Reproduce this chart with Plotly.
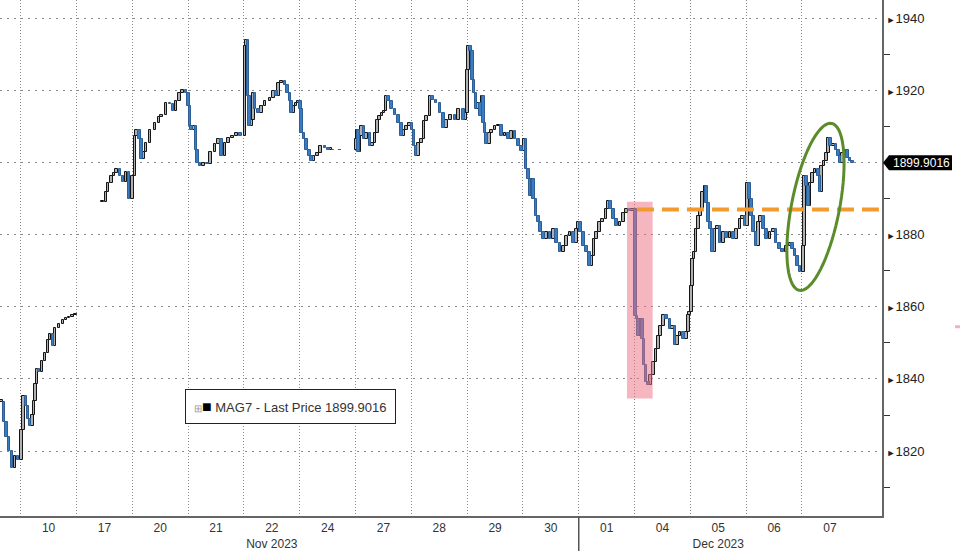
import numpy as np
import plotly.graph_objects as go

# ---------------- data ----------------
day_labels = ["10", "17", "20", "21", "22", "24", "27", "28", "29", "30",
              "01", "04", "05", "06", "07"]          # trading day index 1..15
month_labels = {"22": "Nov 2023", "05": "Dec 2023"}
month_break_day = 11                                 # Dec 01

# time in trading-day units (day index + fraction of the day)
t = [
    # Nov 09 tail / Nov 10
    0.656, 0.700, 0.745, 0.790, 0.844, 0.898, 0.952, 1.014, 1.050, 1.095, 1.131, 1.167,
    1.212, 1.239, 1.266, 1.293, 1.328, 1.382, 1.436, 1.490, 1.526, 1.580, 1.616, 1.688,
    1.759, 1.813, 1.867, 1.921, 1.975,
    # Nov 17
    2.470, 2.529, 2.565, 2.631, 2.672, 2.720, 2.780, 2.833, 2.887, 2.941,
    # Nov 20
    3.007, 3.048, 3.079, 3.125, 3.168, 3.197, 3.246, 3.317, 3.407, 3.478, 3.527, 3.604,
    3.676, 3.729, 3.783, 3.842, 3.903, 3.962,
    # Nov 21
    4.011, 4.034, 4.065, 4.106, 4.142, 4.165, 4.213, 4.272, 4.344, 4.405, 4.482, 4.541,
    4.602, 4.661, 4.720, 4.799, 4.871, 4.943,
    # Nov 22
    5.018, 5.045, 5.072, 5.099, 5.138, 5.167, 5.197, 5.256, 5.317, 5.376, 5.466, 5.525,
    5.586, 5.615, 5.676, 5.735, 5.776, 5.824, 5.855, 5.884, 5.932, 5.973,
    # Nov 24
    6.013, 6.034, 6.075, 6.124, 6.170, 6.213, 6.254, 6.314, 6.375, 6.452, 6.511, 6.559,
    # Nov 27
    7.007, 7.030, 7.056, 7.079, 7.109, 7.151, 7.199, 7.258, 7.306, 7.348, 7.389, 7.425,
    7.473, 7.509, 7.545, 7.586, 7.647, 7.706, 7.765, 7.826, 7.867, 7.916, 7.962,
    # Nov 28
    8.011, 8.047, 8.082, 8.124, 8.185, 8.226, 8.274, 8.333, 8.382, 8.441, 8.513, 8.572,
    8.633, 8.704, 8.781, 8.840, 8.930, 8.978,
    # Nov 29
    9.005, 9.023, 9.063, 9.099, 9.122, 9.158, 9.199, 9.242, 9.265, 9.289, 9.319, 9.349,
    9.396, 9.439, 9.498, 9.557, 9.618, 9.677, 9.737, 9.798, 9.857, 9.916, 9.977,
    # Nov 30
    10.018, 10.054, 10.095, 10.125, 10.156, 10.185, 10.233, 10.274, 10.317, 10.364,
    10.425, 10.484, 10.543, 10.604, 10.663, 10.722, 10.783, 10.842, 10.901, 10.962, 10.986,
    # Dec 01
    11.034, 11.081, 11.142, 11.188, 11.231, 11.272, 11.321, 11.367, 11.428, 11.487,
    11.538, 11.572, 11.618, 11.679, 11.738, 11.798, 11.858, 11.918, 11.966,
    # Dec 04
    12.016, 12.043, 12.070, 12.109, 12.145, 12.168, 12.204, 12.246, 12.289, 12.335,
    12.384, 12.425, 12.468, 12.514, 12.575, 12.634, 12.683, 12.724, 12.765, 12.814,
    12.873, 12.934, 12.962, 12.990,
    # Dec 05
    13.023, 13.041, 13.065, 13.100, 13.142, 13.185, 13.220, 13.262, 13.292, 13.321,
    13.364, 13.400, 13.441, 13.482, 13.530, 13.590, 13.651, 13.710, 13.769, 13.830,
    13.889, 13.937, 13.978,
    # Dec 06
    14.020, 14.056, 14.099, 14.127, 14.176, 14.217, 14.260, 14.306, 14.367, 14.427,
    14.486, 14.534, 14.593, 14.654, 14.713, 14.785, 14.833, 14.875, 14.916, 14.964,
    # Dec 07
    15.023, 15.041, 15.084, 15.113, 15.143, 15.192, 15.233, 15.292, 15.323, 15.353,
    15.394, 15.443, 15.471, 15.514, 15.561, 15.609, 15.650, 15.681, 15.729, 15.771,
    15.812, 15.860, 15.909,
]

close = [
    # Nov 09 tail / Nov 10
    1833.7, 1828.0, 1824.0, 1820.0, 1815.2, 1818.5, 1817.4, 1825.8, 1835.2, 1832.5, 1829.0, 1827.0,
    1830.0, 1834.0, 1838.5, 1842.7, 1842.0, 1844.9, 1847.3, 1850.9, 1852.5, 1849.0, 1854.0, 1855.2,
    1856.2, 1856.8, 1857.2, 1857.6, 1858.0,
    # Nov 17
    1889.1, 1891.7, 1894.4, 1896.2, 1897.0, 1898.1, 1896.2, 1894.5, 1897.3, 1889.8,
    # Nov 20
    1896.2, 1907.3, 1909.1, 1906.4, 1900.9, 1902.8, 1905.5, 1909.1, 1911.0, 1912.5, 1913.3, 1916.6,
    1916.1, 1914.2, 1917.0, 1919.4, 1920.2, 1919.4,
    # Nov 21
    1915.6, 1910.1, 1909.1, 1910.1, 1903.6, 1900.0, 1899.0, 1900.0, 1899.5, 1902.8, 1905.0, 1906.4,
    1901.8, 1905.5, 1906.9, 1907.3, 1908.3, 1907.3,
    # Nov 22
    1932.2, 1934.0, 1918.3, 1910.1, 1911.9, 1919.3, 1914.7, 1913.8, 1915.6, 1917.0, 1917.9, 1919.7,
    1918.3, 1922.0, 1922.5, 1921.6, 1919.3, 1917.0, 1913.8, 1915.6, 1916.5, 1917.0,
    # Nov 24
    1914.7, 1908.2, 1906.4, 1903.6, 1901.8, 1900.4, 1901.8, 1902.7, 1904.5, 1904.1, 1903.6, 1903.6,
    # Nov 27
    1906.4, 1909.1, 1902.8, 1907.3, 1910.1, 1906.4, 1908.2, 1904.5, 1905.4, 1908.2, 1911.9, 1912.8,
    1913.7, 1914.2, 1918.3, 1917.0, 1914.7, 1913.3, 1911.0, 1907.3, 1909.1, 1910.1, 1911.0,
    # Nov 28
    1909.1, 1904.5, 1901.8, 1905.4, 1906.4, 1911.4, 1912.8, 1918.3, 1917.4, 1916.5, 1913.7, 1909.6,
    1911.9, 1913.3, 1911.9, 1914.7, 1911.9, 1913.7,
    # Nov 29
    1925.7, 1932.2, 1930.8, 1923.0, 1919.3, 1914.7, 1916.5, 1912.8, 1918.3, 1911.0, 1908.2, 1905.0,
    1908.2, 1909.1, 1910.1, 1910.5, 1907.3, 1908.2, 1906.4, 1908.7, 1906.4, 1904.5, 1903.2,
    # Nov 30
    1906.4, 1898.1, 1895.3, 1890.7, 1895.3, 1889.8, 1885.2, 1883.4, 1880.6, 1878.8,
    1880.6, 1878.8, 1881.5, 1877.8, 1875.1, 1876.9, 1879.7, 1880.6, 1877.8, 1881.5, 1883.4,
    # Dec 01
    1880.6, 1876.9, 1875.1, 1871.4, 1874.1, 1878.8, 1880.6, 1883.4, 1884.3, 1887.0,
    1889.3, 1887.0, 1884.3, 1882.4, 1883.4, 1886.1, 1887.0, 1886.6, 1887.0,
    # Dec 04
    1857.5, 1856.7, 1852.0, 1856.7, 1851.1, 1843.8, 1839.2, 1838.3, 1841.0, 1844.7,
    1848.4, 1852.0, 1854.8, 1857.6, 1856.7, 1853.9, 1854.8, 1849.3, 1852.0, 1853.0,
    1851.1, 1853.0, 1857.6, 1858.5,
    # Dec 05
    1865.9, 1873.2, 1875.1, 1881.5, 1885.2, 1887.0, 1891.7, 1893.5, 1888.9, 1883.4,
    1881.5, 1875.1, 1881.5, 1882.4, 1877.8, 1880.6, 1879.2, 1880.6, 1878.8, 1881.5,
    1884.3, 1885.2, 1882.4,
    # Dec 06
    1894.4, 1889.8, 1885.2, 1880.6, 1876.9, 1883.4, 1885.2, 1881.5, 1878.8, 1880.6,
    1881.5, 1877.8, 1876.0, 1875.1, 1876.9, 1877.8, 1876.0, 1874.1, 1871.4, 1869.6,
    # Dec 07
    1876.9, 1896.2, 1893.5, 1888.0, 1894.4, 1897.2, 1898.1, 1896.2, 1891.7, 1899.0,
    1900.4, 1902.7, 1906.9, 1904.5, 1905.0, 1903.6, 1901.8, 1900.0, 1902.7, 1903.6,
    1901.3, 1900.4, 1899.9016,
]

session_starts = [0, 29]        # bars that open after a data gap
halfday_end_t = 6.81            # Nov 24 early close: flat dashed last price
last_price = 1899.9016
ref_level = 1887.0              # orange dashed reference level
ref_start_t = 12.043
selloff_t = (11.864, 12.324)    # pink highlight (time span)
selloff_v = (1834.6, 1889.1)    # pink highlight (price span)
ellipse_center = (15.242, 1887.7)

y_major = [1820, 1840, 1860, 1880, 1900, 1920, 1940]
y_minor = [1810, 1830, 1850, 1870, 1890, 1910, 1930]

# ---------------- derived bar bodies ----------------
opens = [c if i in session_starts else close[i - 1] for i, c in enumerate(close)]
BAR_W = 0.05   # bar body width in trading days

FONT = "Liberation Sans, Arial, sans-serif"

fig = go.Figure()
for up, fill, edge in [(True, "#b0b0b0", "#151515"), (False, "#3a7cc2", "#2d5f96")]:
    xs, base, h = [], [], []
    for ti, o, c in zip(t, opens, close):
        if (c >= o) == up:
            xs.append(ti)
            base.append(min(o, c))
            h.append(max(abs(c - o), 0.35))
    fig.add_trace(go.Bar(
        x=xs, y=h, base=base, width=BAR_W,
        marker=dict(color=fill, line=dict(color=edge, width=1)),
        showlegend=False, hoverinfo="skip",
    ))

# Nov 24 early close: dashed flat last price
i_half = t.index(6.559)
fig.add_trace(go.Scatter(
    x=[t[i_half], halfday_end_t], y=[close[i_half], close[i_half]],
    mode="lines", line=dict(color="#555", width=1, dash="3px,4px"),
    showlegend=False, hoverinfo="skip",
))

tickvals = [i + 1.5 for i in range(len(day_labels))]
ticktext = [lab + ("<br>" + month_labels[lab] if lab in month_labels else "")
            for lab in day_labels]

tri = "<span style='font-size:9px'>&#9658;</span>"
y_ticktext = ["" if v == 1900 else tri + str(v) for v in y_major]

fig.update_layout(
    width=960, height=551, autosize=False,
    margin=dict(l=0, r=78, t=0, b=33),
    paper_bgcolor="white", plot_bgcolor="white",
    barmode="overlay", bargap=0,
    font=dict(family=FONT, size=12, color="#333"),
    xaxis=dict(
        range=[0.629, 16.434],
        tickmode="array", tickvals=tickvals, ticktext=ticktext,
        ticks="", showgrid=False, zeroline=False,
        showline=True, linecolor="#666", linewidth=2,
        tickfont=dict(size=12, color="#333"),
        minor=dict(tickmode="array", tickvals=list(range(1, len(day_labels) + 1)),
                   showgrid=True, gridcolor="#8a8a8a", griddash="1px,2px",
                   gridwidth=1, ticks=""),
        fixedrange=True,
    ),
    yaxis=dict(
        side="right", range=[1802.0, 1945.05],
        tickmode="array", tickvals=y_major, ticktext=y_ticktext,
        ticks="", showgrid=True, gridcolor="#8a8a8a", griddash="2px,5px", gridwidth=1,
        zeroline=False, showline=True, linecolor="#666", linewidth=2,
        tickfont=dict(size=13, color="#222"),
        minor=dict(tickmode="array", tickvals=y_minor, ticks="outside", ticklen=6,
                   tickcolor="#333", tickwidth=1, showgrid=False),
        fixedrange=True,
    ),
)

# ---------------- annotations / shapes ----------------
shapes = []
# pink sell-off highlight
shapes.append(dict(type="rect", xref="x", yref="y",
                   x0=selloff_t[0], x1=selloff_t[1], y0=selloff_v[0], y1=selloff_v[1],
                   fillcolor="rgba(236,110,130,0.5)", line=dict(width=0), layer="above"))
# orange dashed level
shapes.append(dict(type="line", xref="x", yref="y",
                   x0=ref_start_t, x1=16.5, y0=ref_level, y1=ref_level,
                   line=dict(color="#f29a2e", width=4, dash="17px,8px"), layer="above"))
# green tilted ellipse (pixel-sized around data anchor)
phi = np.deg2rad(11)
th = np.linspace(0, 2 * np.pi, 73)
a_, b_ = 85.0, 24.0
ux, uy = a_ * np.cos(th), b_ * np.sin(th)
ex = ux * np.sin(phi) + uy * np.cos(phi)
ey = ux * np.cos(phi) - uy * np.sin(phi)
path = "M " + " L ".join(f"{x:.2f},{y:.2f}" for x, y in zip(ex, ey)) + " Z"
shapes.append(dict(type="path", path=path, xsizemode="pixel", ysizemode="pixel",
                   xref="x", yref="y", xanchor=ellipse_center[0], yanchor=ellipse_center[1],
                   line=dict(color="#5b8c2a", width=3), fillcolor="rgba(0,0,0,0)", layer="above"))
# month separator below the axis
shapes.append(dict(type="line", xref="x", yref="paper", x0=month_break_day, x1=month_break_day,
                   y0=0, y1=-0.07, line=dict(color="#555", width=1.5)))
# last price marker
shapes.append(dict(type="path", xref="paper", yref="y", xsizemode="pixel", ysizemode="pixel",
                   xanchor=1, yanchor=last_price,
                   path="M 1,0 L 7,7.5 L 70,7.5 L 70,-7.5 L 7,-7.5 Z",
                   fillcolor="#000", line=dict(width=0)))
# tiny pink mark at right edge
shapes.append(dict(type="line", xref="paper", yref="paper",
                   x0=955 / 882, x1=960 / 882, y0=1 - 328 / 518, y1=1 - 328 / 518,
                   line=dict(color="#f2b3bb", width=3)))
fig.update_layout(shapes=shapes)

fig.add_annotation(xref="paper", yref="y", x=1, xshift=39, y=last_price,
                   text=f"{last_price:.4f}", showarrow=False, xanchor="center",
                   font=dict(family=FONT, size=12, color="white"))
fig.add_annotation(xref="paper", yref="paper", x=290 / 882, y=1 - 408 / 518,
                   text=("<span style='color:#999;font-size:10px'>&#8862;</span>"
                         "<span style='font-size:16px;color:#000'>&#9632;</span> "
                         f"MAG7 - Last Price {last_price:.4f}"),
                   showarrow=False, xanchor="center", yanchor="middle",
                   bgcolor="white", bordercolor="#222", borderwidth=1, borderpad=8,
                   font=dict(family=FONT, size=13, color="#333"))

fig.write_html("out.html")
